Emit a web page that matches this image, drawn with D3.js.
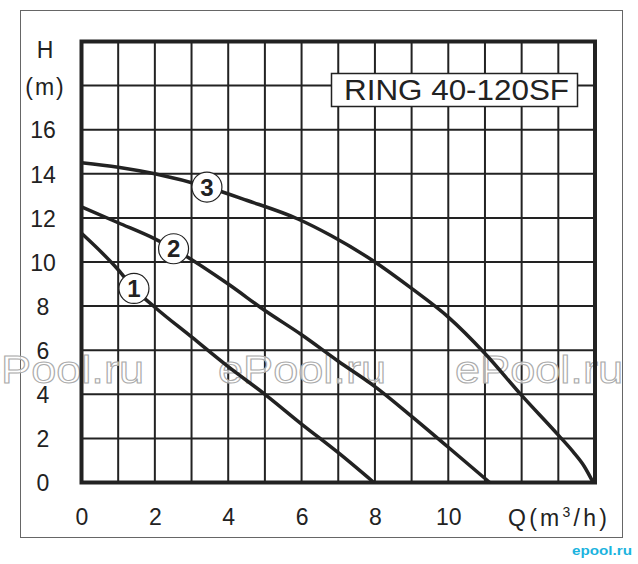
<!DOCTYPE html>
<html><head><meta charset="utf-8">
<script src="https://cdn.jsdelivr.net/npm/d3@7"></script>
<style>body{margin:0;background:#fff}svg{display:block}</style>
</head><body><svg id="c" width="638" height="564"></svg>
<script>
const title = "RING 40-120SF";
const qTicks = [0, 2, 4, 6, 8, 10];
const hTicks = [0, 2, 4, 6, 8, 10, 12, 14, 16];
const curve1Q = [0, 1, 1.43, 2, 3, 4, 5, 6, 7, 7.97];
const curve1H = [11.3, 9.65, 8.8, 7.95, 6.6, 5.25, 4.0, 2.65, 1.35, 0];
const curve2Q = [0, 1, 2, 2.51, 4, 5, 6, 7, 8, 9, 10, 11.13];
const curve2H = [12.5, 11.78, 11.05, 10.6, 9.0, 7.8, 6.7, 5.5, 4.35, 3.0, 1.6, 0];
const curve3Q = [0, 1, 2, 3.42, 4.5, 5.9, 6.8, 8, 9, 10, 11, 12, 13, 13.4, 13.7, 13.95];
const curve3H = [14.5, 14.3, 14.0, 13.4, 12.8, 11.95, 11.2, 10.0, 8.8, 7.5, 5.85, 3.95, 2.15, 1.4, 0.75, 0];
const labelNames = ["1", "2", "3"];
const labelQ = [1.43, 2.51, 3.42];
const labelH = [8.8, 10.6, 13.4];
const watermarks = ["ePool.ru", "ePool.ru", "ePool.ru"];

const svg = d3.select("#c");
const FONT = "'Liberation Sans', Arial, sans-serif";
const ink = "#222";

const x = d3.scaleLinear().domain([0, 14]).range([81.5, 595]);
const y = d3.scaleLinear().domain([0, 20]).range([482.5, 41.5]);

// outer frame
svg.append("rect").attr("x", 20.5).attr("y", 10.5).attr("width", 602).attr("height", 527)
  .attr("fill", "#fff").attr("stroke", "#666").attr("stroke-width", 1);

// grid
const g = svg.append("g");
g.selectAll(".vg").data(d3.range(1, 14)).join("line")
  .attr("x1", d => x(d)).attr("x2", d => x(d)).attr("y1", y(0)).attr("y2", y(20))
  .attr("stroke", ink).attr("stroke-width", 2);
g.selectAll(".hg").data(d3.range(2, 20, 2)).join("line")
  .attr("y1", d => y(d)).attr("y2", d => y(d)).attr("x1", x(0)).attr("x2", x(14))
  .attr("stroke", ink).attr("stroke-width", 2);

// watermarks
svg.append("g").selectAll("text").data(watermarks).join("text")
  .attr("x", (d, i) => (i === 0 ? -24 : -19 + i * 237)).attr("y", 383)
  .attr("font-family", FONT).attr("font-size", 38)
  .attr("textLength", 168).attr("lengthAdjust", "spacingAndGlyphs")
  .attr("fill", "#fff").attr("fill-opacity", 0.7)
  .attr("stroke", "#aaa").attr("stroke-width", 1)
  .text(d => d);

// plot border
svg.append("rect").attr("x", x(0)).attr("y", y(20)).attr("width", x(14) - x(0)).attr("height", y(0) - y(20))
  .attr("fill", "none").attr("stroke", ink).attr("stroke-width", 4);

// axes labels
const yAxis = d3.axisLeft(y).tickValues(hTicks).tickSize(0).tickFormat(d3.format("d"));
const ya = svg.append("g").attr("transform", "translate(43,0)").call(yAxis);
ya.select(".domain").remove();
ya.selectAll("text").attr("x", 0).attr("text-anchor", "middle").attr("dy", "0.36em")
  .attr("font-family", FONT).attr("font-size", 23).attr("fill", ink);

const xAxis = d3.axisBottom(x).tickValues(qTicks).tickSize(0).tickFormat(d3.format("d"));
const xa = svg.append("g").attr("transform", "translate(0,508)").call(xAxis);
xa.select(".domain").remove();
xa.selectAll("text").attr("y", 0).attr("dy", "0.75em")
  .attr("font-family", FONT).attr("font-size", 23).attr("fill", ink);

svg.append("text").attr("x", 45).attr("y", 57.5).attr("text-anchor", "middle")
  .attr("font-family", FONT).attr("font-size", 23).attr("fill", ink).text("H");
svg.append("text").attr("x", 45.5).attr("y", 95).attr("text-anchor", "middle")
  .attr("font-family", FONT).attr("font-size", 23).attr("letter-spacing", 2).attr("fill", ink).text("(m)");

const ql = svg.append("text").attr("x", 508).attr("y", 526)
  .attr("font-family", FONT).attr("font-size", 23).attr("fill", ink)
  .attr("textLength", 99).attr("lengthAdjust", "spacing");
ql.append("tspan").text("Q(m");
ql.append("tspan").attr("dy", -9).attr("font-size", 14).text("3");
ql.append("tspan").attr("dy", 9).text("/h)");

// curves
const line = d3.line().x(d => x(d[0])).y(d => y(d[1])).curve(d3.curveMonotoneX);
const curves = [
  d3.zip(curve1Q, curve1H),
  d3.zip(curve2Q, curve2H),
  d3.zip(curve3Q, curve3H)
];
svg.append("g").selectAll("path").data(curves).join("path")
  .attr("d", line).attr("fill", "none").attr("stroke", ink).attr("stroke-width", 3.5)
  .attr("stroke-linejoin", "round");

// circle labels
const lg = svg.append("g").selectAll("g").data(labelNames).join("g")
  .attr("transform", (d, i) => `translate(${x(labelQ[i])},${y(labelH[i])})`);
lg.append("circle").attr("r", 15).attr("fill", "#fff").attr("stroke", ink).attr("stroke-width", 1.2);
lg.append("text").attr("text-anchor", "middle").attr("dy", "0.36em")
  .attr("font-family", FONT).attr("font-size", 24).attr("font-weight", "bold").attr("fill", ink)
  .text(d => d);

// title box
svg.append("rect").attr("x", 331.5).attr("y", 73.5).attr("width", 246).attr("height", 33)
  .attr("fill", "#fff").attr("stroke", ink).attr("stroke-width", 1.5);
svg.append("text").attr("x", 344).attr("y", 100)
  .attr("font-family", FONT).attr("font-size", 29).attr("fill", ink)
  .attr("textLength", 225).attr("lengthAdjust", "spacingAndGlyphs")
  .text(title);

// logo
svg.append("text").attr("x", 572).attr("y", 555)
  .attr("font-family", FONT).attr("font-size", 12).attr("font-weight", "bold").attr("fill", "#1bb3de")
  .attr("textLength", 60).attr("lengthAdjust", "spacingAndGlyphs")
  .text("epool.ru");
</script>
</body></html>
